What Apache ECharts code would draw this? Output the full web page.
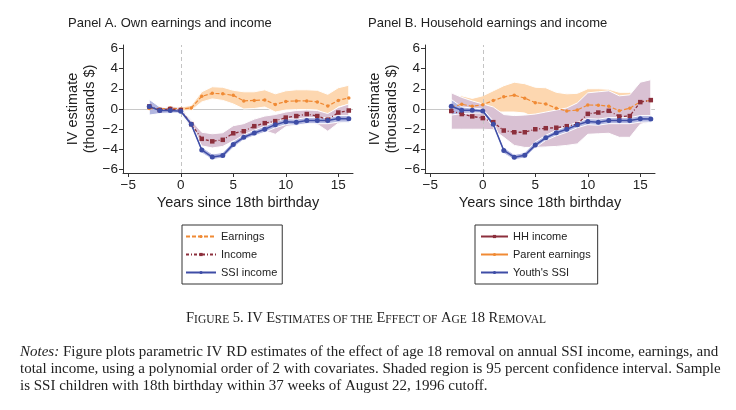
<!DOCTYPE html>
<html><head><meta charset="utf-8">
<script src="https://cdn.jsdelivr.net/npm/echarts@6/dist/echarts.min.js"></script>
<style>html,body{margin:0;padding:0;background:#fff}#c{width:736px;height:410px}</style>
</head><body><div id="c"></div>
<script>
// ---------- data ----------
const years = [-3,-2,-1,0,1,2,3,4,5,6,7,8,9,10,11,12,13,14,15,16];
const xTicks = [-5,0,5,10,15];
const yTicks = [-6,-4,-2,0,2,4,6];

// Panel A
const earnA    = [0.05,0.0,0.1,0.0,0.1,1.25,1.55,1.5,1.35,0.8,0.85,0.9,0.45,0.75,0.8,0.8,0.7,0.3,0.85,1.1];
const earnA_lo = [-0.15,-0.2,-0.1,-0.2,-0.15,0.7,1.0,0.85,0.5,0.0,0.05,0.2,-0.3,-0.1,-0.05,-0.05,-0.1,-0.6,0.2,0.45];
const earnA_hi = [0.3,0.2,0.3,0.2,0.35,1.7,2.2,2.15,1.85,1.7,1.7,1.9,1.5,1.8,1.9,1.9,1.85,1.45,2.1,2.35];
const incA     = [0.25,-0.1,0.0,-0.1,-1.5,-2.95,-3.2,-3.05,-2.4,-2.2,-1.7,-1.4,-1.2,-0.85,-0.7,-0.5,-0.7,-1.05,-0.35,-0.15];
const incA_lo  = [-0.1,-0.35,-0.25,-0.35,-1.95,-3.65,-3.85,-3.7,-3.15,-2.95,-2.45,-2.15,-2.5,-1.75,-1.6,-1.4,-1.5,-2.2,-1.4,-1.3];
const incA_hi  = [0.6,0.15,0.25,0.15,-1.1,-2.3,-2.45,-2.35,-1.65,-1.45,-1.0,-0.7,-0.55,-0.3,-0.15,-0.1,-0.15,-0.45,0.15,0.5];
const ssiA     = [0.25,-0.15,-0.15,-0.22,-1.5,-4.05,-4.75,-4.6,-3.5,-2.8,-2.37,-2.0,-1.55,-1.25,-1.3,-1.13,-1.13,-1.13,-0.95,-0.97];
const ssiA_lo  = [-0.6,-0.45,-0.4,-0.4,-1.8,-4.35,-5.0,-4.85,-3.8,-3.05,-2.65,-2.3,-1.85,-1.55,-1.6,-1.45,-1.45,-1.45,-1.3,-1.3];
const ssiA_hi  = [0.95,0.2,0.1,0.0,-1.2,-3.75,-4.45,-4.3,-3.2,-2.55,-2.1,-1.7,-1.25,-0.95,-1.0,-0.85,-0.85,-0.85,-0.65,-0.65];

// Panel B
const hhB      = [-0.2,-0.5,-0.73,-0.9,-1.3,-2.13,-2.3,-2.3,-2.0,-1.9,-1.85,-1.7,-1.5,-0.48,-0.35,-0.18,-0.74,-0.7,0.68,0.88];
const hhB_lo   = [-2.0,-2.0,-2.0,-2.0,-2.05,-2.8,-3.6,-3.8,-3.8,-3.75,-3.7,-3.6,-3.45,-2.5,-2.45,-2.4,-2.8,-2.8,-1.5,-1.3];
const hhB_hi   = [1.6,1.15,0.8,0.5,0.2,-0.55,-0.65,-0.6,-0.5,-0.3,-0.1,0.1,0.6,1.6,1.7,1.8,1.3,1.4,2.65,2.9];
const parB     = [0.2,0.47,0.27,0.43,0.83,1.2,1.37,1.07,0.63,0.5,0.08,-0.2,-0.1,0.4,0.38,0.28,-0.18,0.08,0.7,0.85];
const parB_lo  = [-0.6,-0.36,-0.5,-0.44,-0.3,-0.3,-0.3,-0.4,-0.89,-1.1,-1.49,-1.9,-1.75,-1.2,-1.24,-1.39,-1.96,-1.49,-0.2,0.2];
const parB_hi  = [1.0,1.3,1.05,1.3,1.8,2.3,2.65,2.5,2.15,2.1,1.65,1.5,1.55,2.0,2.0,1.95,1.65,1.65,1.6,1.5];
const ssiB     = [0.27,-0.13,-0.13,-0.2,-1.5,-4.1,-4.77,-4.57,-3.57,-2.85,-2.35,-2.0,-1.57,-1.24,-1.3,-1.14,-1.14,-1.14,-0.97,-1.0];
const ssiB_lo  = [-0.6,-0.45,-0.4,-0.4,-1.8,-4.4,-5.02,-4.85,-3.85,-3.1,-2.65,-2.3,-1.85,-1.55,-1.6,-1.45,-1.45,-1.45,-1.3,-1.3];
const ssiB_hi  = [0.95,0.2,0.1,0.0,-1.2,-3.8,-4.5,-4.3,-3.25,-2.6,-2.1,-1.7,-1.3,-0.95,-1.0,-0.85,-0.85,-0.85,-0.65,-0.65];

const titleA = 'Panel A. Own earnings and income';
const titleB = 'Panel B. Household earnings and income';
const xName = 'Years since 18th birthday';
const yName = 'IV estimate\n(thousands $)';
const caption = '{b|F}{s|IGURE} {b|5. IV E}{s|STIMATES OF THE} {b|E}{s|FFECT OF} {b|A}{s|GE} {b|18 R}{s|EMOVAL}';
const notes = [
  '{i|Notes:} Figure plots parametric IV RD estimates of the effect of age 18 removal on annual SSI income, earnings, and',
  'total income, using a polynomial order of 2 with covariates. Shaded region is 95 percent confidence interval. Sample',
  'is SSI children with 18th birthday within 37 weeks of August 22, 1996 cutoff.'
];

// ---------- styling ----------
const SANS = '"Liberation Sans", Arial, Helvetica, sans-serif';
const SERIF = '"Liberation Serif", "Times New Roman", serif';
const C_OR = '#F08A34', C_RED = '#8C2F3C', C_BLUE = '#3E4DA6';
const B_OR = '#FDD7B0', B_PU = '#D9C1D3', B_BL = '#B2B6E0';
const fmt = v => String(v).replace('-', '\u2212');

function xAxis(idx) {
  return { type:'value', gridIndex:idx, min:-5.5, max:16.4,
    axisLine:{show:true, onZero:false, lineStyle:{color:'#333', width:1}},
    axisTick:{show:true, customValues:xTicks, length:4, lineStyle:{color:'#333'}},
    axisLabel:{customValues:xTicks, margin:5, fontSize:13.5, color:'#222', fontFamily:SANS, formatter:fmt},
    splitLine:{show:false},
    name:xName, nameLocation:'middle', nameGap:22,
    nameTextStyle:{fontSize:14.5, color:'#222', fontFamily:SANS} };
}
function yAxis(idx) {
  return { type:'value', gridIndex:idx, min:-6.33, max:6.33,
    axisLine:{show:true, onZero:false, lineStyle:{color:'#333', width:1}},
    axisTick:{show:true, customValues:yTicks, length:4, lineStyle:{color:'#333'}},
    axisLabel:{customValues:yTicks, margin:5, fontSize:13.5, color:'#222', fontFamily:SANS, formatter:fmt},
    splitLine:{show:false},
    name:yName, nameLocation:'middle', nameRotate:90, nameGap:22,
    nameTextStyle:{fontSize:14.5, lineHeight:17, color:'#222', fontFamily:SANS} };
}
function band(idx, lo, hi, fill) {
  return { type:'custom', xAxisIndex:idx, yAxisIndex:idx, silent:true, z:2,
    data: years.map((x,i)=>[x, lo[i], hi[i]]), encode:{x:0, y:[1,2]},
    renderItem: function(params, api) {
      if (params.dataIndex !== 0) return null;
      const top = years.map((x,i)=>api.coord([x, hi[i]]));
      const bot = years.map((x,i)=>api.coord([x, lo[i]])).reverse();
      return { type:'polygon', shape:{points: top.concat(bot)},
               style:{fill: fill, stroke:'#fff', lineWidth:1} };
    } };
}
function line(idx, name, vals, color, type, symbol, size, width) {
  return { type:'line', name, xAxisIndex:idx, yAxisIndex:idx,
    data: years.map((x,i)=>[x, vals[i]]), symbol, symbolSize:size, showSymbol:true,
    lineStyle:{color, width, type}, itemStyle:{color}, z:5, emphasis:{disabled:true} };
}
function refLines(idx) {
  return [
    { type:'line', xAxisIndex:idx, yAxisIndex:idx, data:[], silent:true,
      markLine:{ silent:true, symbol:'none', z:0, label:{show:false}, animation:false,
        data:[{yAxis:0, lineStyle:{color:'#c8c8c8', width:1, type:'solid'}}] } },
    { type:'line', xAxisIndex:idx, yAxisIndex:idx, data:[], silent:true, z:4,
      markLine:{ silent:true, symbol:'none', z:4, label:{show:false}, animation:false,
        data:[{xAxis:0, lineStyle:{color:'#c4c4c4', width:1, type:[4,3]}}] } }
  ];
}
const DASH = [4,2], DASHDOT = [3,2,1,2];

const option = {
  animation:false,
  backgroundColor:'#fff',
  grid:[ {left:123, top:45, width:230, height:128},
         {left:425, top:45, width:230, height:128} ],
  xAxis:[xAxis(0), xAxis(1)],
  yAxis:[yAxis(0), yAxis(1)],
  legend:[
    { data:['Earnings','Income','SSI income'], orient:'vertical', left:182, top:225,
      padding:[6,5,6,3], itemGap:7, itemWidth:30, itemHeight:4,
      borderColor:'#333', borderWidth:1, selectedMode:false,
      textStyle:{fontSize:11, color:'#222', fontFamily:SANS} },
    { data:['HH income','Parent earnings',"Youth's SSI"], orient:'vertical', left:475, top:225,
      padding:[6,7,6,5], itemGap:7, itemWidth:27, itemHeight:4,
      borderColor:'#333', borderWidth:1, selectedMode:false,
      lineStyle:{type:'solid'},
      textStyle:{fontSize:11, color:'#222', fontFamily:SANS} }
  ],
  series:[
    ...refLines(0), ...refLines(1),
    band(0, earnA_lo, earnA_hi, B_OR),
    band(0, incA_lo, incA_hi, B_PU),
    band(0, ssiA_lo, ssiA_hi, B_BL),
    band(1, parB_lo, parB_hi, B_OR),
    band(1, hhB_lo, hhB_hi, B_PU),
    band(1, ssiB_lo, ssiB_hi, B_BL),
    line(0, 'Earnings', earnA, C_OR, DASH, 'circle', 3.5, 1.2),
    line(0, 'Income', incA, C_RED, DASHDOT, 'rect', 4.5, 1.3),
    line(0, 'SSI income', ssiA, C_BLUE, 'solid', 'circle', 5, 1.5),
    line(1, 'Parent earnings', parB, C_OR, DASH, 'circle', 3.5, 1.2),
    line(1, 'HH income', hhB, C_RED, DASHDOT, 'rect', 4.5, 1.3),
    line(1, "Youth's SSI", ssiB, C_BLUE, 'solid', 'circle', 5, 1.5)
  ],
  graphic:[
    { type:'text', left:68, top:17, style:{text:titleA, fontSize:13, fontFamily:SANS, fill:'#222'} },
    { type:'text', left:368, top:17, style:{text:titleB, fontSize:13, fontFamily:SANS, fill:'#222'} },
    { type:'text', x:366, y:318, style:{text:caption, align:'center', verticalAlign:'middle',
        fontSize:14.5, fontFamily:SERIF, fill:'#222',
        rich:{ b:{fontSize:14.5, fontFamily:SERIF, fill:'#222', verticalAlign:'bottom'},
               s:{fontSize:11.5, fontFamily:SERIF, fill:'#222', verticalAlign:'bottom'} } } },
    ...notes.map((t,k)=>({ type:'text', x:20, y:352 + 17*k,
      style:{text:t, verticalAlign:'middle', fontSize:15, fontFamily:SERIF, fill:'#222',
        rich:{ i:{fontSize:15, fontFamily:SERIF, fontStyle:'italic', fill:'#222'} } } }))
  ]
};
const chart = echarts.init(document.getElementById('c'), null, {renderer:'canvas'});
chart.setOption(option);
</script></body></html>
